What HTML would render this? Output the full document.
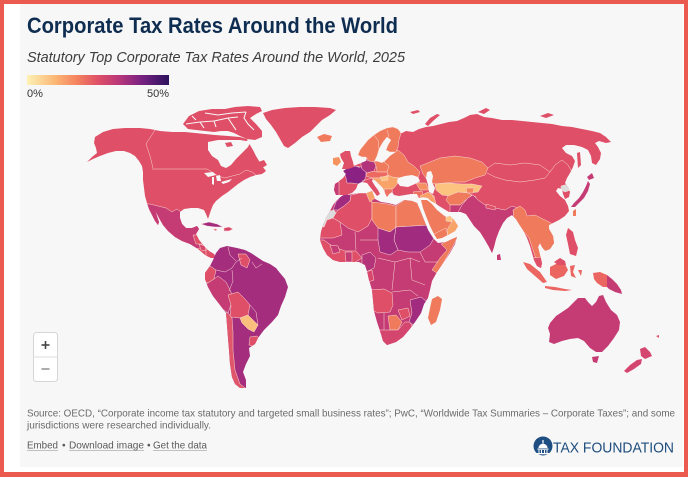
<!DOCTYPE html>
<html><head><meta charset="utf-8"><style>
html,body{margin:0;padding:0;width:688px;height:477px;overflow:hidden;background:#eb5a4f;}
svg{display:block}
</style></head><body>
<svg width="688" height="477" viewBox="0 0 688 477" xmlns="http://www.w3.org/2000/svg" xmlns:xlink="http://www.w3.org/1999/xlink">
<defs>
<linearGradient id="lg" x1="0" x2="1" y1="0" y2="0">
<stop offset="0" stop-color="#fdf2b4"/><stop offset="0.2" stop-color="#fbb674"/><stop offset="0.35" stop-color="#f4835f"/><stop offset="0.5" stop-color="#df5068"/><stop offset="0.65" stop-color="#b83679"/><stop offset="0.8" stop-color="#7c2283"/><stop offset="1" stop-color="#2b125d"/>
</linearGradient>
<path id="pNA" d="M95,137 L103,132 L113,129 L125,128 L140,128 L150,129 L160,131 L172,132 L185,132 L195,133 L205,134 L215,135 L228,136 L240,137 L247,139 L250,145 L253,150 L256,156 L259,161 L262,166 L266,171 L262,174 L256,175 L250,177 L244,180 L238,184 L233,188 L228,192 L222,196 L216,201 L213,205 L211,210 L209,216 L208,219 L206,214 L204,210 L198,208 L191,208 L184,209 L180,212 L180,218 L182,224 L186,228 L192,228 L197,226 L199,229 L196,234 L199,240 L204,246 L209,251 L214,254 L216,258 L211,258 L205,255 L198,249 L190,244 L182,241 L175,237 L168,231 L163,225 L159,218 L156,212 L155,209 L157,216 L159,222 L158,225 L155,221 L152,215 L149,209 L147,203 L145,196 L144,188 L143,180 L143,172 L142,166 L139,161 L135,156 L130,153 L124,151 L116,151 L108,153 L100,156 L93,159 L87,162 L92,157 L97,153 L96,148 L94,143 Z"/>
<path id="pSA" d="M220,248 L227,246 L237,248 L245,250 L251,253 L257,257 L263,261 L270,264 L276,268 L280,273 L285,279 L288,287 L285,297 L281,306 L278,315 L272,322 L264,330 L258,338 L255,344 L249,348 L250,356 L246,364 L243,372 L246,380 L246,388 L240,388 L235,384 L232,377 L230,364 L229,350 L228,338 L227,325 L226,313 L220,305 L213,296 L208,287 L205,279 L205,273 L210,266 L213,260 L216,253 Z"/>
<path id="pAF" d="M337,200 L343,195 L352,194 L360,193 L367,193 L372,191 L375,199 L381,202 L388,203 L396,205 L404,200 L412,201 L417,203 L420,210 L424,220 L428,230 L433,238 L438,243 L446,242 L452,239 L457,237 L455,244 L450,253 L444,262 L437,272 L432,281 L430,290 L428,298 L424,304 L421,313 L415,322 L409,330 L403,337 L396,342 L387,345 L383,341 L381,334 L377,322 L374,311 L373,300 L372,290 L369,280 L367,271 L365,265 L359,262 L350,262 L340,262 L333,260 L327,255 L323,248 L320,240 L321,232 L323,225 L326,218 L330,211 L333,205 Z"/>
<path id="pEU" d="M335,184 L338,182 L343,178 L346,174 L343,171 L350,167 L356,165 L361,163 L366,161 L367,157 L370,157 L371,161 L376,161 L382,163 L386,160 L390,156 L396,152 L398,147 L397,140 L400,134 L406,131 L413,132 L419,129 L426,127 L433,126 L441,124 L449,122 L457,121 L464,118 L470,115 L477,114 L484,117 L492,118 L502,120 L512,120 L522,121 L532,122 L542,123 L552,124 L562,126 L572,127 L582,129 L592,131 L600,133 L606,137 L611,142 L606,143 L599,141 L595,143 L598,147 L601,153 L600,159 L596,165 L592,163 L591,156 L588,150 L582,147 L574,145 L566,145 L562,148 L566,153 L572,156 L575,161 L573,167 L570,173 L567,178 L565,183 L568,187 L570,192 L569,197 L565,199 L563,194 L562,189 L558,188 L556,191 L560,196 L565,200 L568,206 L569,211 L565,216 L559,220 L553,223 L549,225 L549,229 L553,236 L554,243 L550,249 L545,251 L542,247 L540,243 L538,247 L540,255 L542,263 L541,268 L537,266 L534,260 L532,253 L530,246 L527,238 L523,230 L519,224 L516,219 L512,215 L507,218 L503,223 L499,231 L496,239 L494,247 L492,253 L489,247 L485,240 L480,232 L474,226 L470,220 L466,214 L461,212 L455,212 L449,212 L444,209 L439,206 L435,203 L431,201 L428,198 L423,197 L419,198 L417,194 L411,194 L405,195 L399,196 L394,195 L392,192 L389,194 L387,197 L385,193 L383,188 L380,185 L376,181 L373,179 L372,181 L375,186 L378,190 L380,194 L377,196 L374,192 L370,187 L367,183 L362,182 L358,184 L356,189 L352,193 L346,195 L341,195 L336,195 L334,190 Z"/>
<path id="pAR" d="M421,200 L427,200 L432,204 L437,210 L442,214 L446,217 L450,216 L454,220 L458,226 L455,231 L448,235 L442,238 L437,239 L434,234 L430,226 L426,216 L423,208 Z"/>
<clipPath id="cNA"><use xlink:href="#pNA"/></clipPath>
<clipPath id="cSA"><use xlink:href="#pSA"/></clipPath>
<clipPath id="cAF"><use xlink:href="#pAF"/></clipPath>
<clipPath id="cEU"><use xlink:href="#pEU"/></clipPath>
<clipPath id="cAR"><use xlink:href="#pAR"/></clipPath>
</defs>

<!-- frame -->
<rect width="688" height="477" fill="#eb5a4f"/>
<rect x="4" y="4" width="680" height="468" fill="#ffffff"/>
<rect x="20" y="4" width="663" height="463" fill="#f7f7f7"/>

<!-- header -->
<text x="27" y="33" font-family="Liberation Sans, sans-serif" font-weight="bold" font-size="22" fill="#0f2d50" textLength="371" lengthAdjust="spacingAndGlyphs">Corporate Tax Rates Around the World</text>
<text x="27" y="62" font-family="Liberation Sans, sans-serif" font-style="italic" font-size="15" fill="#3d3d3d" textLength="378" lengthAdjust="spacingAndGlyphs">Statutory Top Corporate Tax Rates Around the World, 2025</text>
<rect x="27" y="75" width="142" height="10" fill="url(#lg)"/>
<text x="27" y="97" font-family="Liberation Sans, sans-serif" font-size="11" fill="#333">0%</text>
<text x="169" y="97" text-anchor="end" font-family="Liberation Sans, sans-serif" font-size="11" fill="#333">50%</text>

<!-- MAP -->
<g stroke="#f9d9d4" stroke-width="0.5" stroke-linejoin="round">
<!-- North America -->
<use xlink:href="#pNA" fill="#df4f67" stroke="none"/>
<g clip-path="url(#cNA)">
  <path d="M140,204 L150,204 L158,206 L166,208 L172,212 L177,209 L181,212 L200,220 L205,238 L200,248 L190,250 L170,240 L140,220 Z" fill="#c53c74"/>
  <path d="M193,235 L200,235 L203,244 L196,244 Z" fill="#df4f67"/>
  <path d="M206,249 L214,252 L218,260 L206,258 Z" fill="#df4f67"/>
  <path d="M199,244 L205,246 L206,251 L201,250 Z" fill="#d9486c"/>
</g>
<polyline points="152,169 207,169 212,172 218,176 225,178 232,176 240,174 246,170 252,172 256,175" fill="none"/>
<polyline points="155,130 146,144 150,156 153,168" fill="none"/>
<!-- Hudson Bay -->
<path d="M208,142 L218,140 L230,140 L240,140 L246,141 L252,139 L248,147 L242,153 L236,159 L231,165 L226,168 L221,166 L218,160 L212,156 L208,150 Z" fill="#f7f7f7" stroke="none"/>
<!-- great lakes -->
<path d="M204,173 L213,172 L216,175 L208,177 Z M212,177 L214,177 L214,185 L212,184 Z M216,176 L220,175 L221,181 L217,181 Z M221,182 L228,180 L232,179 L229,182 L223,184 Z" fill="#f7f7f7" stroke="none"/>
<!-- arctic islands -->
<g fill="#df4f67" stroke="none">
<path d="M183,124 L189,116 L199,111 L212,109 L225,109 L235,107 L248,106 L260,107 L262,111 L256,114 L250,118 L256,124 L262,131 L262,137 L255,140 L247,139 L240,136 L234,133 L228,131 L221,131 L214,132 L205,131 L196,130 L188,129 Z"/>
<path d="M225,143 L231,142 L233,146 L227,147 Z"/>
<path d="M258,162 L264,160 L267,165 L262,168 L258,166 Z"/>
<path d="M263,113 L272,110 L285,108 L300,107 L315,107 L330,108 L336,110 L330,115 L322,120 L316,126 L310,132 L302,137 L295,143 L288,148 L284,146 L280,139 L276,132 L271,125 L266,119 Z"/>
</g>
<g fill="none" stroke="#f7f7f7" stroke-width="1.1">
<polyline points="186,124 200,122 214,121 228,118 238,117"/>
<polyline points="205,113 218,115 232,113 246,112"/>
<polyline points="228,118 232,124 236,130"/>
<polyline points="200,122 204,128"/>
<polyline points="246,112 244,118 248,124 254,130"/>
<polyline points="214,121 216,127"/>
<polyline points="192,116 196,120"/>
</g>
<!-- caribbean -->
<path d="M201,224 L209,222 L217,224 L223,227 L215,227 L207,226 Z" fill="#a42c7f"/>
<path d="M224,228 L229,227 L233,229 L229,231 L224,231 Z" fill="#d9486c"/>
<path d="M213,229 L217,229 L216,231 Z" fill="#df4f67"/>

<!-- South America -->
<use xlink:href="#pSA" fill="#a52d7e" stroke="none"/>
<g clip-path="url(#cSA)">
  <path d="M238,254 L246,254 L250,260 L247,268 L241,265 Z" fill="#df4f67"/>
  <path d="M200,270 L210,266 L216,270 L214,279 L208,283 L200,280 Z" fill="#df4f67"/>
  <path d="M208,283 L214,279 L218,276 L226,282 L231,292 L232,302 L228,313 L221,308 L212,296 L205,286 Z" fill="#c53c74"/>
  <path d="M228,295 L238,292 L245,299 L250,305 L248,315 L240,318 L230,317 L231,305 Z" fill="#df4f67"/>
  <path d="M240,318 L248,315 L253,320 L258,325 L254,332 L248,329 L242,323 Z" fill="#fbbf7d"/>
  <path d="M250,337 L257,336 L261,341 L255,347 L249,345 Z" fill="#df4f67"/>
  <path d="M222,312 L228,313 L232,318 L233,332 L233,350 L235,370 L240,384 L248,390 L230,392 L225,360 Z" fill="#e0566a"/>
</g>
<polyline points="216,270 225,272 232,268 236,262 242,258" fill="none"/>
<polyline points="228,247 230,255 236,261" fill="none"/>
<polyline points="232,270 233,281 229,291" fill="none"/>
<polyline points="250,305 256,312 258,325" fill="none"/>
<polyline points="252,262 256,268 262,264" fill="none"/>

<!-- Africa -->
<use xlink:href="#pAF" fill="#c53c74" stroke="none"/>
<g clip-path="url(#cAF)">
  <path d="M333,210 L336,202 L340,197 L345,194 L351,195 L350,201 L344,206 L338,210 Z" fill="#a12b7f"/>
  <path d="M318,226 L325,217 L330,211 L334,210 L336,213 L333,218 L327,220 L324,227 Z" fill="#dcdcdc"/>
  <path d="M318,227 L324,227 L327,220 L333,218 L340,222 L342,235 L333,238 L318,238 Z" fill="#df4f67"/>
  <path d="M338,210 L344,206 L350,201 L351,195 L360,193 L368,193 L372,203 L372,218 L368,226 L358,232 L348,228 L340,222 L333,218 L336,213 Z" fill="#df4f67"/>
  <path d="M366,193 L373,190 L375,198 L370,202 Z" fill="#f8a067"/>
  <path d="M372,202 L380,203 L388,204 L396,206 L396,227 L390,232 L378,228 L372,220 Z" fill="#f07a5c"/>
  <path d="M396,206 L406,199 L418,201 L424,210 L430,225 L396,227 Z" fill="#f07a5c"/>
  <path d="M396,227 L430,225 L434,238 L430,245 L420,252 L408,252 L398,250 L394,240 Z" fill="#a12b7f"/>
  <path d="M378,228 L390,232 L396,227 L394,240 L398,250 L390,255 L380,252 L378,240 Z" fill="#a12b7f"/>
  <path d="M316,240 L324,240 L332,246 L345,251 L356,251 L362,258 L352,264 L332,264 L322,256 L316,248 Z" fill="#df4f67"/>
  <path d="M330,245 L338,246 L340,252 L333,254 Z" fill="#c53c74"/>
  <path d="M345,252 L352,252 L352,262 L346,262 Z" fill="#c53c74"/>
  <path d="M362,255 L370,252 L376,258 L374,268 L366,272 L362,265 Z" fill="#b33479"/>
  <path d="M366,272 L372,270 L374,280 L368,282 Z" fill="#d9486c"/>
  <path d="M370,290 L384,289 L392,293 L393,305 L390,312 L378,313 L372,310 Z" fill="#df4f67"/>
  <path d="M388,316 L396,315 L402,322 L398,330 L390,330 Z" fill="#f07a5c"/>
  <path d="M398,310 L408,308 L410,316 L402,320 Z" fill="#df4f67"/>
  <path d="M376,330 L390,330 L398,330 L405,322 L410,322 L413,328 L408,336 L398,344 L386,347 L376,340 Z" fill="#d5466e"/>
  <path d="M410,300 L421,297 L427,302 L422,314 L414,325 L409,322 L412,313 Z" fill="#a12b7f"/>
  <path d="M441,244 L458,236 L452,248 L445,260 L437,273 L432,270 L440,258 L447,250 Z" fill="#f07a5c"/>
</g>
<polyline points="360,240 378,240" fill="none"/>
<polyline points="355,232 356,250" fill="none"/>
<polyline points="378,258 395,262 410,258 420,262" fill="none"/>
<polyline points="395,262 392,290" fill="none"/>
<polyline points="410,258 412,280 425,285" fill="none"/>
<polyline points="420,252 425,262 438,262" fill="none"/>
<polyline points="392,292 410,290 418,296" fill="none"/>
<polyline points="384,313 384,330" fill="none"/>
<path d="M432,299 L438,296 L442,299 L440,310 L436,322 L431,325 L428,318 L430,308 Z" fill="#f07a5c" stroke="none"/>

<!-- Eurasia -->
<use xlink:href="#pEU" fill="#df4f67" stroke="none"/>
<g clip-path="url(#cEU)">
  <path d="M330,182 L339,182 L339,196 L330,196 Z" fill="#c53c74"/>
  <path d="M343,170 L350,167 L356,166 L361,167 L366,170 L366,176 L364,181 L358,184 L352,183 L347,183 L346,178 Z" fill="#8b2183"/>
  <path d="M361,162 L366,160 L374,161 L376,166 L374,171 L367,173 L362,169 L361,165 Z" fill="#b3327c"/>
  <path d="M374,161 L384,162 L389,166 L387,172 L377,172 L376,166 Z" fill="#f07a5c"/>
  <path d="M384,162 L388,158 L392,153 L398,150 L404,155 L408,162 L414,166 L420,172 L418,178 L408,177 L400,178 L392,177 L388,175 L387,172 L389,166 Z" fill="#f07a5c"/>
  <path d="M367,173 L374,171 L377,172 L387,172 L388,175 L382,178 L372,178 L366,176 Z" fill="#ec6a5f"/>
  <path d="M372,178 L382,178 L388,175 L392,177 L398,178 L398,183 L394,188 L390,190 L387,197 L384,190 L380,185 L375,182 Z" fill="#f8a468"/>
  <path d="M380,177 L388,176 L388,180 L382,181 Z" fill="#fcc581"/>
  <path d="M384,189 L392,189 L393,198 L386,198 Z" fill="#ee7060"/>
  <path d="M416,183 L426,183 L429,190 L420,190 Z" fill="#f59062"/>
  <path d="M413,192 L422,191 L424,198 L417,199 Z" fill="#ee7060"/>
  <path d="M420,196 L428,192 L434,196 L436,204 L430,203 L425,200 L420,200 Z" fill="#f8a067"/>
  <path d="M420,166 L430,162 L440,158 L455,156 L470,158 L482,162 L488,168 L485,175 L475,178 L465,182 L455,182 L445,183 L435,184 L428,181 L423,174 Z" fill="#f07a5c"/>
  <path d="M435,184 L448,183 L462,184 L472,184 L482,186 L478,192 L468,193 L458,192 L450,196 L442,195 L436,190 Z" fill="#fcc280"/>
  <path d="M466,188 L474,188 L473,193 L467,193 Z" fill="#f4865f"/>
  <path d="M448,196 L458,192 L468,193 L472,195 L466,200 L460,205 L450,205 L446,200 Z" fill="#f07a5c"/>
  <path d="M450,205 L460,205 L466,200 L472,195 L476,197 L472,203 L468,208 L467,215 L458,215 L450,214 Z" fill="#c53c74"/>
  <path d="M457,214 L462,205 L468,198 L473,195 L478,200 L485,205 L495,208 L505,210 L512,206 L518,208 L520,215 L516,222 L510,225 L495,262 L470,240 L455,222 Z" fill="#c53c74"/>
  <path d="M486,204 L496,207 L495,210 L486,208 Z" fill="#df4f67"/>
  <path d="M513,210 L520,206 L525,210 L527,216 L535,215 L545,220 L551,223 L556,230 L556,245 L548,252 L541,248 L542,262 L537,262 L533,250 L529,238 L524,232 L518,226 L514,220 Z" fill="#f07a5c"/>
  <path d="M533,258 L541,257 L544,272 L535,272 Z" fill="#df4f67"/>
  <path d="M561,186 L568,184 L571,190 L565,192 L561,190 Z" fill="#dcdcdc"/>
</g>
<polyline points="488,168 495,163 510,165 525,163 540,165 550,172 545,178 535,180 520,182 505,180 495,177 487,173" fill="none"/>
<polyline points="550,172 555,165 562,160 568,165 572,172" fill="none"/>
<polyline points="398,178 410,183 420,182" fill="none"/>
<polyline points="430,192 434,198" fill="none"/>
<polyline points="356,166 360,168" fill="none"/>
<polyline points="362,181 372,178" fill="none"/>
<!-- seas -->
<path d="M398,178 L405,176 L412,175 L418,177 L420,181 L415,184 L408,187 L400,186 L397,182 Z" fill="#f7f7f7" stroke="none"/>
<path d="M427,172 L431,171 L433,176 L432,182 L435,188 L433,194 L429,192 L428,185 L426,178 Z" fill="#f7f7f7" stroke="none"/>
<!-- Scandinavia, UK etc -->
<path d="M358,155 L360,150 L364,145 L368,140 L374,135 L380,131 L387,128 L393,127 L398,129 L401,133 L399,140 L398,147 L396,152 L390,152 L386,150 L388,145 L391,140 L387,137 L383,142 L379,149 L377,156 L374,162 L369,161 L366,157 L362,157 Z" fill="#f07a5c"/>
<polyline points="374,135 378,140 379,149" fill="none"/>
<polyline points="387,130 389,137" fill="none"/>
<path d="M340,154 L345,151 L350,151 L351,156 L353,162 L354,167 L348,169 L342,169 L344,163 L341,158 Z" fill="#df4f67" stroke="none"/>
<path d="M333,158 L339,157 L341,162 L337,166 L333,164 Z" fill="#f6935f" stroke="none"/>
<path d="M317,137 L324,134 L332,136 L330,141 L321,142 Z" fill="#f07a5c" stroke="none"/>
<g fill="#df4f67" stroke="none">
<path d="M425,124 L430,118 L437,114 L440,115 L433,121 L428,126 Z"/>
<path d="M478,112 L486,108 L490,110 L484,114 Z"/>
<path d="M540,116 L548,113 L554,115 L546,118 Z"/>
<path d="M410,112 L418,110 L420,112 L413,114 Z"/>
<path d="M577,153 L580,152 L581,165 L578,168 Z"/>
</g>
<!-- Arabia -->
<use xlink:href="#pAR" fill="#f07a5c" stroke="none"/>
<g clip-path="url(#cAR)">
  <path d="M446,217 L452,216 L452,222 L446,221 Z" fill="#fcc581"/>
  <path d="M452,216 L456,220 L459,227 L455,233 L447,236 L448,228 L452,222 Z" fill="#f8a468"/>
</g>
<polyline points="434,234 446,228 448,236" fill="none"/>
<!-- East Asia islands -->
<path d="M574,203 L579,198 L583,192 L586,186 L588,181 L590,184 L588,191 L584,198 L579,203 L575,207 L571,207 Z" fill="#c53c74" stroke="none"/>
<path d="M587,177 L592,173 L594,178 L589,180 Z" fill="#c53c74" stroke="none"/>
<path d="M573,211 L576,209 L576,216 L573,216 Z" fill="#f07a5c" stroke="none"/>
<path d="M568,228 L573,232 L575,240 L578,248 L576,256 L570,254 L568,244 L566,235 Z" fill="#df4f67" stroke="none"/>
<path d="M497,255 L500,254 L501,260 L497,260 Z" fill="#c53c74" stroke="none"/>
<!-- Indonesia -->
<g fill="#eb6660" stroke="none">
<path d="M523,262 L530,264 L540,272 L547,282 L543,283 L535,276 L527,269 Z"/>
<path d="M545,286 L555,287 L565,289 L572,290 L565,291 L553,290 L545,288 Z"/>
<path d="M550,267 L558,263 L565,264 L568,270 L564,276 L556,279 L550,275 Z"/>
<path d="M570,266 L575,265 L573,272 L576,278 L571,276 Z"/>
<path d="M593,273 L600,272 L607,275 L607,287 L603,287 L597,283 L594,279 Z"/>
<path d="M578,270 L582,270 L581,276 Z"/>
</g>
<path d="M554,262 L560,258 L565,261 L566,265 L558,265 Z" fill="#df4f67" stroke="none"/>
<path d="M607,275 L612,279 L617,284 L621,290 L622,294 L615,292 L609,289 L607,287 Z" fill="#c53c74" stroke="none"/>
<!-- Australia / NZ -->
<path d="M550,323 L556,316 L562,312 L568,308 L573,303 L578,298 L585,298 L588,302 L592,306 L596,302 L599,296 L603,295 L606,302 L611,310 L617,315 L620,322 L619,330 L614,338 L608,346 L602,352 L596,352 L590,348 L584,341 L578,338 L570,339 L562,341 L554,344 L549,342 L550,334 L548,328 Z" fill="#c53c74" stroke="none"/>
<path d="M592,357 L599,356 L597,363 L593,362 Z" fill="#c53c74" stroke="none"/>
<path d="M640,349 L645,347 L650,352 L652,356 L645,359 L641,356 Z" fill="#d44570" stroke="none"/>
<path d="M624,371 L630,365 L637,360 L642,359 L641,364 L634,369 L627,373 Z" fill="#d44570" stroke="none"/>
<path d="M656,336 L659,335 L659,338 Z" fill="#df4f67" stroke="none"/>
</g>

<!-- zoom controls -->
<rect x="33.5" y="332.5" width="24" height="49" rx="3" fill="#ffffff" stroke="#d6d6d6"/>
<line x1="33.5" y1="357" x2="57.5" y2="357" stroke="#dedede"/>
<line x1="41.5" y1="345" x2="49.5" y2="345" stroke="#444" stroke-width="1.6"/>
<line x1="45.5" y1="341" x2="45.5" y2="349" stroke="#444" stroke-width="1.6"/>
<line x1="41.5" y1="369" x2="49.5" y2="369" stroke="#888" stroke-width="1.4"/>

<!-- footer -->
<text x="27" y="416.5" font-family="Liberation Sans, sans-serif" font-size="10.3" fill="#6a6a6a" textLength="648" lengthAdjust="spacingAndGlyphs">Source: OECD, “Corporate income tax statutory and targeted small business rates”; PwC, “Worldwide Tax Summaries – Corporate Taxes”; and some</text>
<text x="27" y="428.5" font-family="Liberation Sans, sans-serif" font-size="10.3" fill="#6a6a6a" textLength="184" lengthAdjust="spacingAndGlyphs">jurisdictions were researched individually.</text>
<g font-family="Liberation Sans, sans-serif" font-size="10.3" fill="#5a5a5a">
<text x="27" y="448.5" textLength="31" lengthAdjust="spacingAndGlyphs">Embed</text>
<text x="62" y="448.5">•</text>
<text x="69" y="448.5" textLength="75" lengthAdjust="spacingAndGlyphs">Download image</text>
<text x="147" y="448.5">•</text>
<text x="153" y="448.5" textLength="54" lengthAdjust="spacingAndGlyphs">Get the data</text>
</g>
<line x1="27" y1="450.5" x2="58" y2="450.5" stroke="#8a8a8a" stroke-width="0.6"/>
<line x1="69" y1="450.5" x2="144" y2="450.5" stroke="#8a8a8a" stroke-width="0.6"/>
<line x1="153" y1="450.5" x2="207" y2="450.5" stroke="#8a8a8a" stroke-width="0.6"/>

<!-- logo -->
<circle cx="543" cy="446" r="9.5" fill="#1f4f82"/>
<path d="M538.5,448 A4.5,4.2 0 0 1 547.5,448 Z" fill="#ffffff"/>
<rect x="542.4" y="440" width="1.2" height="3.5" fill="#ffffff"/>
<rect x="537.5" y="448.5" width="11" height="1.2" fill="#ffffff"/>
<rect x="538.5" y="450" width="1" height="3" fill="#ffffff"/><rect x="541" y="450" width="1" height="3" fill="#ffffff"/><rect x="544" y="450" width="1" height="3" fill="#ffffff"/><rect x="546.5" y="450" width="1" height="3" fill="#ffffff"/>
<rect x="536.5" y="453" width="13" height="1.3" fill="#ffffff"/>
<text x="553" y="452.5" font-family="Liberation Sans, sans-serif" font-size="14.5" fill="#1e4d7d" textLength="121" lengthAdjust="spacingAndGlyphs">TAX FOUNDATION</text>
</svg>
</body></html>
